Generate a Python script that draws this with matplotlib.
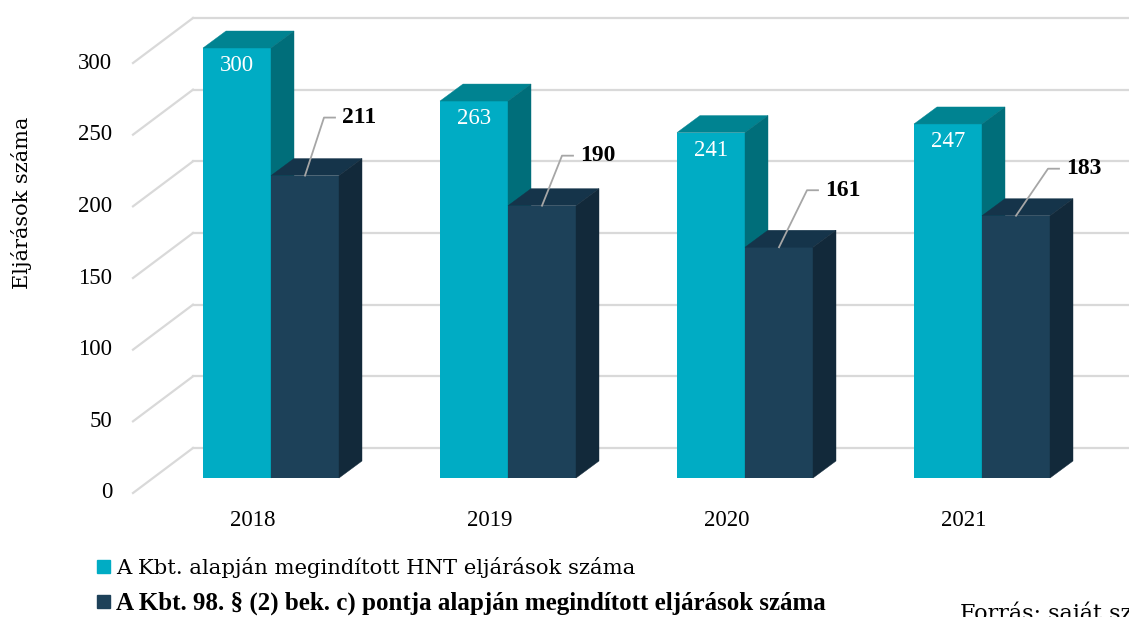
import matplotlib.pyplot as plt
import numpy as np
from matplotlib.patches import Polygon, Patch

plt.rcParams['font.family'] = ['Liberation Serif', 'DejaVu Serif']

# adatok
years = ['2018', '2019', '2020', '2021']
hnt = [300, 263, 241, 247]
kbt98 = [211, 190, 161, 183]
yticks = [0, 50, 100, 150, 200, 250, 300]
labels = ['A Kbt. alapján megindított HNT eljárások száma',
          'A Kbt. 98. § (2) bek. c) pontja alapján megindított eljárások száma']

cyan = ['#00acc4', '#008391', '#006e7a']   # front, top, side
navy = ['#1d4159', '#15344a', '#12293a']
grid_c = '#d9d9d9'
wide = ['DejaVu Serif']

# pixel -> adat skála (ál-3D)
W, H = 1129, 617
PX = 237.0    # px / kategória
PY = 1.4333   # px / egység
X0, Y0 = 271, 478

fig = plt.figure(figsize=(W / 100, H / 100), dpi=100)
ax = fig.add_axes([0, 0, 1, 1])
ax.set_xlim(-X0 / PX, (W - X0) / PX)
ax.set_ylim((Y0 - H) / PY, Y0 / PY)
ax.axis('off')


def dx(p):
    return p / PX


def dy(p):
    return p / PY


x = np.arange(len(years))
w = dx(68)
ddx, ddy = dx(23), dy(17)

# hátsó fal + oldalfal rácsvonalai
for v in yticks:
    yb = v + dy(30)
    ax.plot([dx(193 - X0), ax.get_xlim()[1]], [yb, yb], color=grid_c, lw=1.6, zorder=0)
    ax.plot([dx(133 - X0), dx(193 - X0)], [v - dy(15), yb], color=grid_c, lw=1.6, zorder=0)
    ax.text(dx(112 - X0), v - dy(15), str(v), ha='right', va='center', fontsize=16.5)


def bar3d(xc, vals, cols, z):
    ax.bar(xc, vals, width=w, color=cols[0], zorder=z)
    for xi, h in zip(xc, vals):
        xl, xr = xi - w / 2, xi + w / 2
        ax.add_patch(Polygon([(xl, h), (xr, h), (xr + ddx, h + ddy), (xl + ddx, h + ddy)],
                             closed=True, fc=cols[1], ec=cols[1], lw=0.3, zorder=z))
        ax.add_patch(Polygon([(xr, 0), (xr + ddx, ddy), (xr + ddx, h + ddy), (xr, h)],
                             closed=True, fc=cols[2], ec=cols[2], lw=0.3, zorder=z))


bar3d(x - w / 2, hnt, cyan, 2)
bar3d(x + w / 2, kbt98, navy, 3)

# feliratok
for xi, h in zip(x - w / 2, hnt):
    ax.text(xi, h - dy(7), str(h), ha='center', va='top', color='white', fontsize=16.5, zorder=5)

lead = [(19, 58), (20, 50), (28, 57), (32, 47)]
for xi, h, (ox, oy) in zip(x + w / 2, kbt98, lead):
    ax.plot([xi, xi + dx(ox), xi + dx(ox + 11)], [h, h + dy(oy), h + dy(oy)],
            color='#a6a6a6', lw=1.3, zorder=5)
    ax.text(xi + dx(ox + 18), h + dy(oy), str(h), ha='left', va='center',
            fontweight='bold', fontsize=17, zorder=5)

for xi, yr in zip(x, years):
    ax.text(xi - dx(18), dy(-43), yr, ha='center', va='center', fontsize=16.5)

fig.text(22 / W, 1 - 203 / H, 'Eljárások száma', rotation=90, ha='center', va='center',
         fontsize=15, family=wide)

handles = [Patch(color=cyan[0]), Patch(color=navy[0])]
leg = fig.legend(handles, labels, loc='upper left', bbox_to_anchor=(97 / W, 1 - 557 / H),
                 frameon=False, prop={'family': wide, 'size': 15.2}, handlelength=0.62,
                 handleheight=0.62, handletextpad=0.3, labelspacing=0.62, borderpad=0,
                 borderaxespad=0)
t2 = leg.get_texts()[1]
t2.set_fontweight('bold')
t2.set_family(['Liberation Serif'])
t2.set_fontsize(18)

fig.text(960 / W, 1 - 620 / H, 'Forrás: saját szerkesztés', ha='left', va='baseline',
         fontsize=16, family=wide)

fig.savefig('out.png', dpi=100)
